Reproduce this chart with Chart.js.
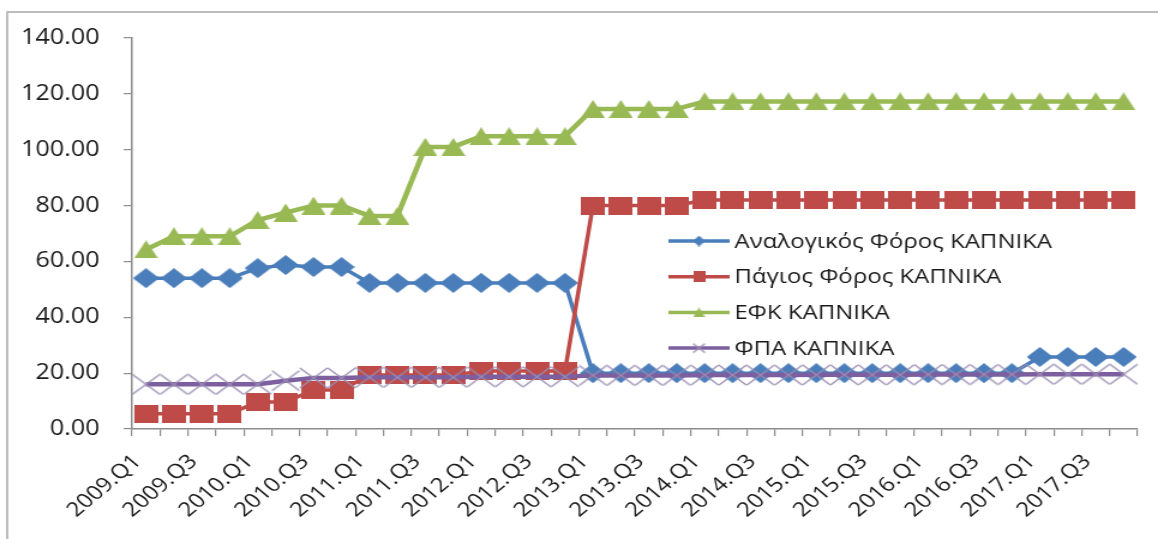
<!DOCTYPE html>
<html>
<head>
<meta charset="utf-8">
<script src="https://cdn.jsdelivr.net/npm/chart.js@4"></script>
<style>
  body { margin: 0; background: #fff; overflow: hidden; }
  /* the chart is drawn narrow and widened a little, like the original sheet export */
  #wrap { width: 965px; height: 539px; transform: scaleX(1.2); transform-origin: 0 0; }
</style>
</head>
<body>
<div id="wrap"><canvas id="myChart" width="965" height="539"></canvas></div>
<script>
const quarters = [
    '2009.Q1', '2009.Q2', '2009.Q3', '2009.Q4',
    '2010.Q1', '2010.Q2', '2010.Q3', '2010.Q4',
    '2011.Q1', '2011.Q2', '2011.Q3', '2011.Q4',
    '2012.Q1', '2012.Q2', '2012.Q3', '2012.Q4',
    '2013.Q1', '2013.Q2', '2013.Q3', '2013.Q4',
    '2014.Q1', '2014.Q2', '2014.Q3', '2014.Q4',
    '2015.Q1', '2015.Q2', '2015.Q3', '2015.Q4',
    '2016.Q1', '2016.Q2', '2016.Q3', '2016.Q4',
    '2017.Q1', '2017.Q2', '2017.Q3', '2017.Q4'
];

const proportionalTax = [
    54, 54, 54, 54,
    57.6, 58.7, 58, 58,
    52.3, 52.3, 52.3, 52.3,
    52.3, 52.3, 52.3, 52.3,
    20, 20, 20, 20,
    20, 20, 20, 20,
    20, 20, 20, 20,
    20, 20, 20, 20,
    25.8, 25.8, 25.8, 25.8
];

const fixedTax = [
    5.5, 5.5, 5.5, 5.5,
    9.7, 9.7, 14, 14,
    19.3, 19.3, 19.3, 19.3,
    20.8, 20.8, 20.8, 20.8,
    80, 80, 80, 80,
    82, 82, 82, 82,
    82, 82, 82, 82,
    82, 82, 82, 82,
    82, 82, 82, 82
];

const exciseTax = [
    64.3, 69, 69, 69,
    74.8, 77.5, 80, 80,
    76.3, 76.3, 101, 101,
    104.8, 104.8, 104.8, 104.8,
    114.6, 114.6, 114.6, 114.6,
    117.3, 117.3, 117.3, 117.3,
    117.3, 117.3, 117.3, 117.3,
    117.3, 117.3, 117.3, 117.3,
    117.3, 117.3, 117.3, 117.3
];

const vatTax = [
    16, 16, 16, 16,
    16, 17.3, 18.3, 18.3,
    18.5, 18.5, 18.5, 18.5,
    18.7, 18.7, 18.7, 18.7,
    19.2, 19.2, 19.2, 19.2,
    19.3, 19.3, 19.3, 19.3,
    19.4, 19.4, 19.4, 19.4,
    19.5, 19.5, 19.5, 19.5,
    19.6, 19.6, 19.6, 19.6
];

const seriesNames = [
    'Αναλογικός Φόρος ΚΑΠΝΙΚΑ',
    'Πάγιος Φόρος ΚΑΠΝΙΚΑ',
    'ΕΦΚ ΚΑΠΝΙΚΑ',
    'ΦΠΑ ΚΑΠΝΙΚΑ'
];

const FONT = "'Open Sans', 'DejaVu Sans', sans-serif";

// build a small canvas to use as a point style
function makeMarker(kind, w, h, color) {
    const c = document.createElement('canvas');
    c.width = w;
    c.height = h;
    const g = c.getContext('2d');
    g.fillStyle = color;
    g.strokeStyle = color;
    g.beginPath();
    if (kind === 'diamond') {
        g.moveTo(w / 2, 0);
        g.lineTo(w, h / 2);
        g.lineTo(w / 2, h);
        g.lineTo(0, h / 2);
        g.closePath();
        g.fill();
    } else if (kind === 'square') {
        g.fillRect(0, 0, w, h);
    } else if (kind === 'triangle') {
        g.moveTo(w / 2, 0);
        g.lineTo(w, h);
        g.lineTo(0, h);
        g.closePath();
        g.fill();
    } else if (kind === 'cross') {
        g.lineWidth = 1.3;
        g.moveTo(1, 1);
        g.lineTo(w - 1, h - 1);
        g.moveTo(w - 1, 1);
        g.lineTo(1, h - 1);
        g.stroke();
    }
    return c;
}

const blue = '#4A7EBB';
const red = '#BE4B48';
const green = '#98B954';
const purple = '#7D5FA0';
const crossColor = '#9A8DB3';

const markers = [
    makeMarker('diamond', 22, 20, blue),
    makeMarker('square', 20, 18, red),
    makeMarker('triangle', 20, 18, green),
    makeMarker('cross', 25, 22, crossColor)
];

const legendMarkers = [
    makeMarker('diamond', 10, 11, blue),
    makeMarker('square', 10, 11, red),
    makeMarker('triangle', 10, 10, green),
    makeMarker('cross', 12, 11, crossColor)
];

// legend sits inside the plot, right of centre
const insideLegend = {
    id: 'insideLegend',
    afterDraw(chart) {
        const c = chart.ctx;
        c.save();
        chart.data.datasets.forEach((ds, i) => {
            const y = 241 + i * 35.7;
            c.strokeStyle = ds.borderColor;
            c.lineWidth = 3.5;
            c.beginPath();
            c.moveTo(557, y);
            c.lineTo(608, y);
            c.stroke();
            const m = legendMarkers[i];
            c.drawImage(m, 582.5 - m.width / 2, y - m.height / 2);
            c.fillStyle = '#1a1a1a';
            c.font = '20px ' + FONT;
            c.textBaseline = 'middle';
            c.textAlign = 'left';
            c.fillText(ds.label, 612, y + 1);
        });
        c.restore();
    }
};

// thin frame round the whole chart
const chartFrame = {
    id: 'chartFrame',
    beforeDraw(chart) {
        const c = chart.ctx;
        c.save();
        c.fillStyle = '#fff';
        c.fillRect(0, 0, chart.width, chart.height);
        c.strokeStyle = '#a6a6a6';
        c.lineWidth = 1.5;
        c.strokeRect(6, 12, chart.width + 20, chart.height + 20);
        c.restore();
    }
};

function drawTaxChart() {
    const ctx = document.getElementById('myChart').getContext('2d');
    const values = [proportionalTax, fixedTax, exciseTax, vatTax];
    const colors = [blue, red, green, purple];
    const widths = [3.5, 3.5, 4.5, 4.5];

    new Chart(ctx, {
        type: 'line',
        data: {
            labels: quarters,
            datasets: values.map((v, i) => ({
                label: seriesNames[i],
                data: v,
                borderColor: colors[i],
                backgroundColor: colors[i],
                borderWidth: widths[i],
                pointStyle: markers[i],
                pointRadius: 10,
                tension: 0,
                order: 4 - i
            }))
        },
        options: {
            responsive: false,
            animation: false,
            layout: {
                padding: { top: 38, right: 17, left: 0, bottom: 0 }
            },
            plugins: {
                legend: { display: false },
                tooltip: { enabled: false }
            },
            scales: {
                x: {
                    offset: true,
                    afterFit: scale => {
                        scale.height = 110;
                        // keep rotated labels from squeezing the plot sideways
                        scale.paddingLeft = 0;
                        scale.paddingRight = 0;
                    },
                    grid: {
                        offset: true,
                        drawOnChartArea: false,
                        drawTicks: true,
                        tickLength: 7,
                        color: '#8c8c8c',
                        lineWidth: 1.2
                    },
                    border: { color: '#8c8c8c', width: 1.5 },
                    ticks: {
                        autoSkip: false,
                        maxRotation: 45,
                        minRotation: 45,
                        padding: 14,
                        labelOffset: -7,
                        color: '#1a1a1a',
                        font: { family: FONT, size: 20 },
                        callback: (val, index) => index % 2 === 0 ? quarters[index] : ''
                    }
                },
                y: {
                    min: 0,
                    max: 140,
                    afterFit: scale => { scale.width = 110; },
                    grid: {
                        drawOnChartArea: false,
                        drawTicks: true,
                        tickLength: 7,
                        color: '#8c8c8c',
                        lineWidth: 1.2
                    },
                    border: { color: '#8c8c8c', width: 1.5 },
                    ticks: {
                        stepSize: 20,
                        padding: 20,
                        color: '#1a1a1a',
                        font: { family: FONT, size: 21 },
                        callback: v => v.toFixed(2)
                    }
                }
            }
        },
        plugins: [chartFrame, insideLegend]
    });
}

drawTaxChart();
</script>
</body>
</html>
